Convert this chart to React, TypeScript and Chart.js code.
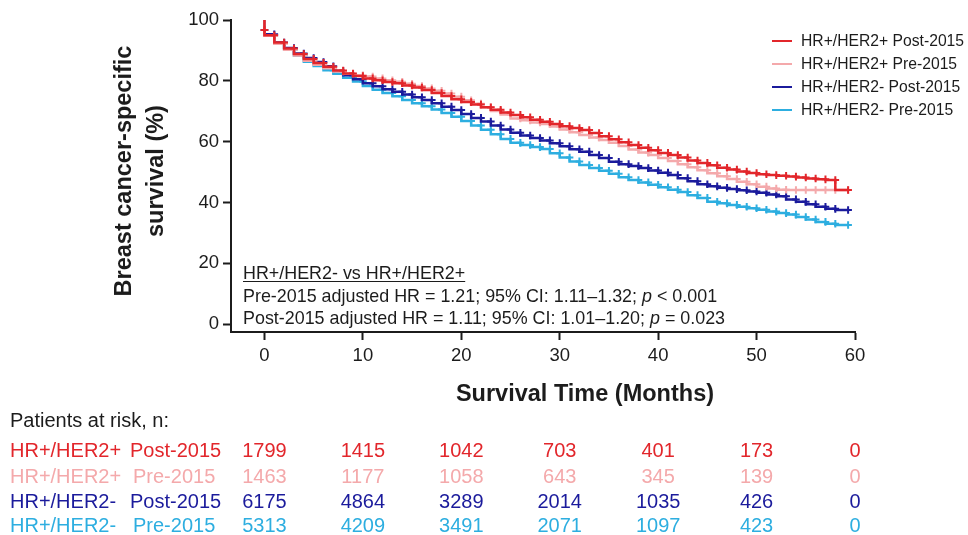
import React, { useEffect, useRef, useState } from "react";
import { Chart, registerables } from "chart.js";

Chart.register(...registerables);

// Time points (months) of the Kaplan-Meier steps
const TIMES = [
  0, 0, 1, 2, 3, 4, 5, 6, 7, 8, 9, 10, 11, 12, 13, 14, 15, 16, 17, 18, 19, 20,
  21, 22, 23, 24, 25, 26, 27, 28, 29, 30, 31, 32, 33, 34, 35, 36, 37, 38, 39, 40,
  41, 42, 43, 44, 45, 46, 47, 48, 49, 50, 51, 52, 53, 54, 55, 56, 57, 58, 59.3,
];

const SERIES_LABELS = [
  "HR+/HER2+ Post-2015",
  "HR+/HER2+ Pre-2015",
  "HR+/HER2- Post-2015",
  "HR+/HER2- Pre-2015",
];

const SERIES_COLORS = ["#E2262B", "#F4A9AB", "#1B1B9C", "#2DAEE0"];

const HER2POS_POST = [
  100, 96.7, 95.0, 92.6, 90.6, 88.8, 87.2, 85.9, 84.6, 83.4, 82.4, 81.6, 80.8,
  80.2, 79.6, 79.2, 78.5, 77.8, 77.0, 76.0, 75.0, 73.9, 73.0, 72.2, 71.3, 70.5,
  69.6, 68.8, 68.0, 67.2, 66.5, 65.8, 65.1, 64.5, 63.8, 62.8, 61.8, 60.8, 59.8,
  58.9, 58.0, 57.2, 56.3, 55.6, 54.8, 53.8, 53.0, 52.2, 51.4, 50.8, 50.2, 49.7,
  49.3, 49.0, 48.8, 48.5, 48.2, 47.9, 47.6, 47.4, 44.1,
];

const HER2POS_PRE = [
  100, 96.7, 94.8, 92.2, 90.2, 88.3, 86.6, 85.3, 84.1, 83.1, 82.3, 81.8, 81.4,
  80.8, 80.2, 79.7, 79.0, 78.3, 77.5, 76.7, 75.8, 74.8, 73.6, 72.5, 71.3, 70.1,
  68.9, 67.6, 67.0, 66.3, 65.8, 65.0, 64.0, 63.1, 62.2, 61.4, 60.5, 59.6, 58.6,
  57.4, 56.4, 55.6, 54.6, 53.6, 52.6, 51.6, 50.6, 49.6, 48.6, 47.7, 46.8, 46.0,
  45.2, 44.6, 44.2, 44.1, 44.1, 44.1, 44.1, 44.1, 44.1,
];

const HER2NEG_POST = [
  100, 96.7, 95.3, 92.6, 90.8, 89.0, 87.5, 86.2, 84.8, 83.2, 81.8, 80.5, 79.2,
  78.2, 77.2, 76.4, 75.5, 74.6, 73.7, 72.6, 71.5, 70.4, 69.1, 67.8, 66.6, 65.3,
  64.0, 62.9, 62.0, 61.2, 60.4, 59.5, 58.5, 57.5, 56.7, 55.6, 54.6, 53.4, 52.6,
  52.0, 51.3, 50.5, 49.8, 49.0, 48.0, 47.0, 46.0, 45.3, 44.8, 44.4, 44.0, 43.6,
  43.2, 42.6, 42.0, 41.0, 40.2, 39.4, 38.6, 37.9, 37.5,
];

const HER2NEG_PRE = [
  100, 96.7, 95.0, 92.4, 90.3, 88.3, 86.3, 84.9, 83.5, 82.3, 81.0, 79.8, 78.3,
  77.1, 76.0, 74.9, 73.7, 72.6, 71.6, 70.6, 69.4, 68.2, 66.8, 65.3, 63.9, 62.4,
  60.9, 59.6, 58.9, 58.2, 57.6, 56.2, 54.8, 53.5, 52.3, 51.3, 50.4, 49.4, 48.3,
  47.4, 46.6, 45.8, 45.0, 44.2, 43.4, 42.4, 41.5, 40.2, 39.7, 39.2, 38.6, 38.1,
  37.6, 37.0, 36.5, 36.0, 35.2, 34.4, 33.6, 33.0, 32.6,
];

const X_TICKS = [0, 10, 20, 30, 40, 50, 60];
const Y_TICKS = [0, 20, 40, 60, 80, 100];

// Patients at risk
const RISK_TIMES = [0, 10, 20, 30, 40, 50, 60];
const RISK_GROUPS = ["HR+/HER2+", "HR+/HER2+", "HR+/HER2-", "HR+/HER2-"];
const RISK_PERIODS = ["Post-2015", "Pre-2015", "Post-2015", "Pre-2015"];
const RISK_HER2POS_POST = [1799, 1415, 1042, 703, 401, 173, 0];
const RISK_HER2POS_PRE = [1463, 1177, 1058, 643, 345, 139, 0];
const RISK_HER2NEG_POST = [6175, 4864, 3289, 2014, 1035, 426, 0];
const RISK_HER2NEG_PRE = [5313, 4209, 3491, 2071, 1097, 423, 0];

const FONT = "Arial, 'Liberation Sans', Helvetica, sans-serif";
const INK = "#1c1c1c";

export default function App() {
  const canvasRef = useRef<HTMLCanvasElement>(null);
  const [riskX, setRiskX] = useState<number[]>([]);

  const seriesValues = [HER2POS_POST, HER2POS_PRE, HER2NEG_POST, HER2NEG_PRE];
  const riskValues = [RISK_HER2POS_POST, RISK_HER2POS_PRE, RISK_HER2NEG_POST, RISK_HER2NEG_PRE];

  useEffect(() => {
    if (!canvasRef.current) return;
    const datasets = SERIES_LABELS.map((label, k) => ({
      label,
      data: TIMES.map((t, i) => ({ x: t, y: seriesValues[k][i] })),
      borderColor: SERIES_COLORS[k],
      backgroundColor: SERIES_COLORS[k],
      borderWidth: 2.5,
      stepped: "after" as const,
      pointStyle: "cross" as const,
      pointRadius: (ctx: any) => (ctx.dataIndex === 0 ? 0 : 3.8),
      pointBorderWidth: 2,
      pointBorderColor: SERIES_COLORS[k],
      pointHoverRadius: 0,
      fill: false,
      clip: 6,
    }));

    const chart = new Chart(canvasRef.current, {
      type: "line",
      data: { datasets },
      options: {
        responsive: false,
        animation: false,
        layout: { padding: { left: 0, top: 20, right: 113, bottom: 123 } },
        plugins: { legend: { display: false }, tooltip: { enabled: false } },
        scales: {
          x: {
            type: "linear",
            min: -3.4,
            max: 60,
            afterBuildTicks: (s: any) => {
              s.ticks = X_TICKS.map((v) => ({ value: v }));
            },
            afterFit: (s: any) => {
              s.height = 80;
            },
            grid: {
              drawOnChartArea: false,
              drawTicks: true,
              tickLength: 8,
              tickWidth: 2,
              tickColor: INK,
              color: INK,
            },
            border: { display: true, color: INK, width: 2 },
            ticks: {
              font: { family: FONT, size: 18.5 },
              color: INK,
              padding: 5,
              maxRotation: 0,
              autoSkip: false,
              callback: (v: any) => String(v),
            },
          },
          y: {
            type: "linear",
            min: -2.6,
            max: 100,
            afterBuildTicks: (s: any) => {
              s.ticks = Y_TICKS.map((v) => ({ value: v }));
            },
            afterFit: (s: any) => {
              s.width = 231;
            },
            grid: {
              drawOnChartArea: false,
              drawTicks: true,
              tickLength: 8,
              tickWidth: 2,
              tickColor: INK,
              color: INK,
            },
            border: { display: true, color: INK, width: 2 },
            ticks: {
              font: { family: FONT, size: 18.5 },
              color: INK,
              padding: 4,
              autoSkip: false,
              callback: (v: any) => String(v),
            },
          },
        },
      },
    });
    const xs = chart.scales.x;
    setRiskX(RISK_TIMES.map((t) => xs.getPixelForValue(t)));
    return () => chart.destroy();
  }, []);

  const legendTops = [41, 64, 87, 110];
  const rowCenters = [450, 475.5, 500.5, 525];

  return (
    <div
      style={{
        position: "absolute",
        left: 0,
        top: 0,
        width: 968,
        height: 535,
        background: "#fff",
        fontFamily: FONT,
        color: INK,
        overflow: "hidden",
      }}
    >
      <canvas
        ref={canvasRef}
        width={968}
        height={535}
        style={{ position: "absolute", left: 0, top: 0, width: 968, height: 535 }}
      />

      {/* Y axis title */}
      <div
        style={{
          position: "absolute",
          left: 139,
          top: 171,
          width: 340,
          transform: "translate(-50%, -50%) rotate(-90deg)",
          textAlign: "center",
          fontWeight: "bold",
          fontSize: 23.5,
          lineHeight: "32px",
          whiteSpace: "nowrap",
        }}
      >
        <div>Breast cancer-specific</div>
        <div>survival (%)</div>
      </div>

      {/* X axis title */}
      <div
        style={{
          position: "absolute",
          left: 585,
          top: 379,
          transform: "translateX(-50%)",
          fontWeight: "bold",
          fontSize: 23.5,
          lineHeight: "28px",
          whiteSpace: "nowrap",
        }}
      >
        Survival Time (Months)
      </div>

      {/* Legend */}
      {SERIES_LABELS.map((label, k) => (
        <div
          key={label}
          style={{
            position: "absolute",
            left: 772,
            top: legendTops[k] - 10,
            height: 20,
            display: "flex",
            alignItems: "center",
            fontSize: 15.7,
            whiteSpace: "nowrap",
          }}
        >
          <div style={{ width: 20, height: 2.5, background: SERIES_COLORS[k], marginRight: 9 }} />
          <span>{label}</span>
        </div>
      ))}

      {/* Hazard ratio annotation */}
      <div
        style={{
          position: "absolute",
          left: 243,
          top: 262,
          fontSize: 17.9,
          lineHeight: "22.5px",
          whiteSpace: "nowrap",
        }}
      >
        <div style={{ textDecoration: "underline", textUnderlineOffset: "2px" }}>HR+/HER2- vs HR+/HER2+</div>
        <div>
          Pre-2015 adjusted HR = 1.21; 95% CI: 1.11–1.32; <i>p</i> &lt; 0.001
        </div>
        <div>
          Post-2015 adjusted HR = 1.11; 95% CI: 1.01–1.20; <i>p</i> = 0.023
        </div>
      </div>

      {/* Patients at risk table */}
      <div
        style={{ position: "absolute", left: 10, top: 408, fontSize: 20, lineHeight: "24px", whiteSpace: "nowrap" }}
      >
        Patients at risk, n:
      </div>
      {RISK_GROUPS.map((g, r) => (
        <React.Fragment key={r}>
          <div
            style={{
              position: "absolute",
              left: 10,
              top: rowCenters[r] - 12,
              fontSize: 20,
              lineHeight: "24px",
              color: SERIES_COLORS[r],
              whiteSpace: "nowrap",
            }}
          >
            {g}
          </div>
          <div
            style={{
              position: "absolute",
              left: RISK_PERIODS[r].startsWith("Post") ? 130 : 133,
              top: rowCenters[r] - 12,
              fontSize: 20,
              lineHeight: "24px",
              color: SERIES_COLORS[r],
              whiteSpace: "nowrap",
            }}
          >
            {RISK_PERIODS[r]}
          </div>
          {riskX.map((x, i) => (
            <div
              key={i}
              style={{
                position: "absolute",
                left: x,
                top: rowCenters[r] - 12,
                transform: "translateX(-50%)",
                fontSize: 20,
                lineHeight: "24px",
                color: SERIES_COLORS[r],
                whiteSpace: "nowrap",
              }}
            >
              {riskValues[r][i]}
            </div>
          ))}
        </React.Fragment>
      ))}
    </div>
  );
}
